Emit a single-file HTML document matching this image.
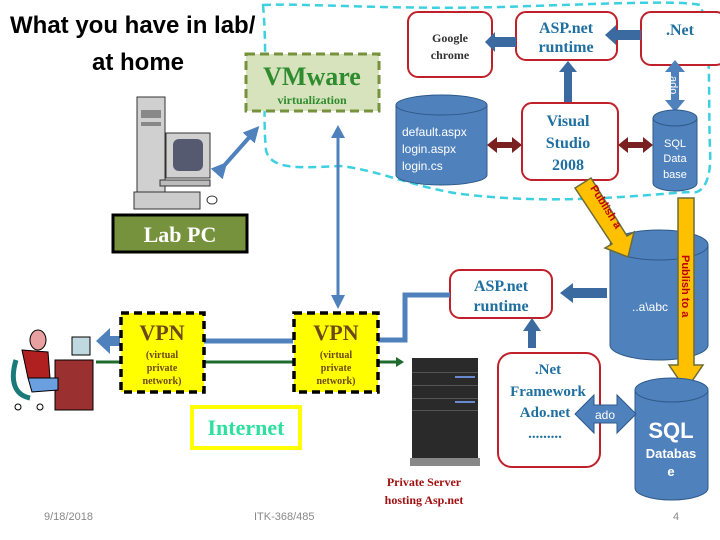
<!DOCTYPE html>
<html><head><meta charset="utf-8"><style>
html,body{margin:0;padding:0;background:#fff;}
svg{display:block;}
.s{font-family:"Liberation Serif",serif;font-weight:bold;}
.a{font-family:"Liberation Sans",sans-serif;}
</style></head><body>
<svg width="720" height="540" viewBox="0 0 720 540" xmlns="http://www.w3.org/2000/svg">
<defs>
<marker id="bh" markerWidth="4" markerHeight="4" refX="2" refY="2" orient="auto"><path d="M0,0L4,2L0,4z" fill="#4f81bd"/></marker>
</defs>
<!-- cloud -->
<path d="M263,5 C300,3 400,10 500,7 C600,4 680,0 700,5 C712,30 708,100 710,150 C712,185 700,195 690,192 C640,195 560,205 470,195 C420,190 380,170 340,166 C300,168 270,170 266,150 C262,110 268,60 263,5Z" fill="none" stroke="#3dd0e0" stroke-width="2.5" stroke-dasharray="8,5"/>
<!-- title -->
<text x="10" y="33" class="a" font-size="24" font-weight="bold" fill="#000">What you have in lab/</text>
<text x="92" y="70" class="a" font-size="24" font-weight="bold" fill="#000">at home</text>
<!-- VMware -->
<rect x="246" y="54" width="133" height="57" fill="#d6e3bc" stroke="#76923c" stroke-width="3" stroke-dasharray="9,5"/>
<text x="312" y="85" class="s" font-size="26" fill="#2e8b2e" text-anchor="middle">VMware</text>
<text x="312" y="104" class="s" font-size="12" fill="#2e8b2e" text-anchor="middle">virtualization</text>
<!-- computer icon -->
<rect x="137" y="97" width="28" height="95" fill="#d0d0d0" stroke="#333"/>
<rect x="141" y="110" width="20" height="8" fill="#888"/>
<rect x="141" y="122" width="20" height="4" fill="#888"/>
<rect x="166" y="133" width="44" height="45" fill="#d0d0d0" stroke="#333"/>
<rect x="173" y="139" width="30" height="32" rx="6" fill="#555a70"/>
<rect x="160" y="180" width="50" height="6" fill="#bbb" stroke="#333"/>
<rect x="134" y="192" width="66" height="17" fill="#ccc" stroke="#333"/>
<ellipse cx="212" cy="200" rx="5" ry="4" fill="#fff" stroke="#333"/>
<!-- Lab PC -->
<rect x="113" y="215" width="134" height="37" fill="#76923c" stroke="#000" stroke-width="3"/>
<text x="180" y="242" class="s" font-size="22" fill="#fff" font-weight="normal" text-anchor="middle">Lab PC</text>
<!-- PC <-> VMware -->
<line x1="222" y1="168" x2="254" y2="132" stroke="#4f81bd" stroke-width="4" marker-start="url(#bh)" marker-end="url(#bh)"/>
<!-- vertical line VMware->VPN -->
<line x1="338" y1="132" x2="338" y2="300" stroke="#4f81bd" stroke-width="3"/>
<path d="M331,295L345,295L338,309Z" fill="#4f81bd"/>
<path d="M331,138L345,138L338,125Z" fill="#4f81bd"/>
<!-- top boxes -->
<rect x="408" y="12" width="84" height="65" rx="10" fill="#fff" stroke="#c0202a" stroke-width="2"/>
<text x="450" y="42" class="s" font-size="12" fill="#333" text-anchor="middle">Google</text>
<text x="450" y="59" class="s" font-size="12" fill="#333" text-anchor="middle">chrome</text>
<rect x="516" y="12" width="101" height="48" rx="10" fill="#fff" stroke="#c0202a" stroke-width="2"/>
<text x="566" y="33" class="s" font-size="16" fill="#1f6fa0" text-anchor="middle">ASP.net</text>
<text x="566" y="52" class="s" font-size="16" fill="#1f6fa0" text-anchor="middle">runtime</text>
<rect x="641" y="12" width="85" height="53" rx="10" fill="#fff" stroke="#c0202a" stroke-width="2"/>
<text x="680" y="35" class="s" font-size="16" fill="#1f6fa0" text-anchor="middle">.Net</text>
<!-- arrows top -->
<path d="M641,30L616,30L616,25L605,35L616,45L616,40L641,40Z" fill="#3a6aa0"/>
<path d="M516,37L495,37L495,32L485,42L495,52L495,47L516,47Z" fill="#3a6aa0"/>
<path d="M564,103L564,72L559,72L568,61L577,72L572,72L572,103Z" fill="#3a6aa0"/>
<path d="M675,60L665,72L671,72L671,100L665,100L675,112L685,100L679,100L679,72L685,72Z" fill="#4f81bd"/>
<text transform="translate(670,76) rotate(90)" class="a" font-size="11" fill="#fff">ado</text>
<!-- default cylinder -->
<path d="M396,105 L396,175 A45.5,10 0 0 0 487,175 L487,105Z" fill="#4f81bd" stroke="#2d5a8a"/>
<ellipse cx="441.5" cy="105" rx="45.5" ry="10" fill="#4f81bd" stroke="#2d5a8a"/>
<text x="402" y="136" class="a" font-size="12" fill="#fff">default.aspx</text>
<text x="402" y="153" class="a" font-size="12" fill="#fff">login.aspx</text>
<text x="402" y="170" class="a" font-size="12" fill="#fff">login.cs</text>
<!-- VS -->
<rect x="522" y="103" width="96" height="77" rx="10" fill="#fff" stroke="#c0202a" stroke-width="2"/>
<text x="568" y="126" class="s" font-size="16" fill="#1f6fa0" text-anchor="middle">Visual</text>
<text x="568" y="148" class="s" font-size="16" fill="#1f6fa0" text-anchor="middle">Studio</text>
<text x="568" y="170" class="s" font-size="16" fill="#1f6fa0" text-anchor="middle">2008</text>
<!-- SQL data base small -->
<path d="M653,118 L653,183 A22,8 0 0 0 697,183 L697,118Z" fill="#4f81bd" stroke="#2d5a8a"/>
<ellipse cx="675" cy="118" rx="22" ry="8" fill="#4f81bd" stroke="#2d5a8a"/>
<text x="675" y="147" class="a" font-size="11" fill="#fff" text-anchor="middle">SQL</text>
<text x="675" y="162" class="a" font-size="11" fill="#fff" text-anchor="middle">Data</text>
<text x="675" y="178" class="a" font-size="11" fill="#fff" text-anchor="middle">base</text>
<!-- dark red double arrows -->
<path d="M487,145L497,137L497,142L512,142L512,137L522,145L512,153L512,148L497,148L497,153Z" fill="#7a2020"/>
<path d="M618,145L628,137L628,142L643,142L643,137L653,145L643,153L643,148L628,148L628,153Z" fill="#7a2020"/>
<!-- ..a\abc cylinder -->
<path d="M610,245 L610,345 A49,15 0 0 0 708,345 L708,245Z" fill="#4f81bd" stroke="#2d5a8a"/>
<ellipse cx="659" cy="245" rx="49" ry="15" fill="#4f81bd" stroke="#2d5a8a"/>
<text x="650" y="311" class="a" font-size="12" fill="#fff" text-anchor="middle">..a\abc</text>
<!-- publish diagonal -->
<path d="M575,188 L591,178 L627,236 L634,232 L628,257 L605,248 L612,244 Z" fill="#ffc000" stroke="#6b6b3a" stroke-width="1.5"/>
<text transform="translate(590,188) rotate(58)" class="a" font-size="11" font-weight="bold" fill="#c00000">Publish a</text>
<!-- publish vertical -->
<path d="M678,198 L694,198 L694,365 L703,365 L686,390 L669,365 L678,365 Z" fill="#ffc000" stroke="#6b6b3a" stroke-width="1.5"/>
<text transform="translate(682,255) rotate(90)" class="a" font-size="11" font-weight="bold" fill="#c00000">Publish to a</text>
<!-- ASP middle -->
<rect x="450" y="270" width="102" height="48" rx="10" fill="#fff" stroke="#c0202a" stroke-width="2"/>
<text x="501" y="291" class="s" font-size="16" fill="#1f6fa0" text-anchor="middle">ASP.net</text>
<text x="501" y="311" class="s" font-size="16" fill="#1f6fa0" text-anchor="middle">runtime</text>
<path d="M607,288L573,288L573,283L560,293L573,303L573,298L607,298Z" fill="#3a6aa0"/>
<path d="M528,348L528,331L523,331L532,318L541,331L536,331L536,348Z" fill="#3a6aa0"/>
<!-- .Net Framework -->
<rect x="498" y="353" width="102" height="114" rx="14" fill="#fff" stroke="#c0202a" stroke-width="2"/>
<text x="548" y="374" class="s" font-size="15" fill="#1f6fa0" text-anchor="middle">.Net</text>
<text x="548" y="396" class="s" font-size="15" fill="#1f6fa0" text-anchor="middle">Framework</text>
<text x="545" y="417" class="s" font-size="15" fill="#1f6fa0" text-anchor="middle">Ado.net</text>
<text x="545" y="438" class="s" font-size="15" fill="#1f6fa0" text-anchor="middle">.........</text>
<!-- SQL Database -->
<path d="M635,390 L635,488 A36.5,12 0 0 0 708,488 L708,390Z" fill="#4f81bd" stroke="#2d5a8a"/>
<ellipse cx="671.5" cy="390" rx="36.5" ry="12" fill="#4f81bd" stroke="#2d5a8a"/>
<text x="671" y="438" class="a" font-size="22" font-weight="bold" fill="#fff" text-anchor="middle">SQL</text>
<text x="671" y="458" class="a" font-size="13" font-weight="bold" fill="#fff" text-anchor="middle">Databas</text>
<text x="671" y="476" class="a" font-size="13" font-weight="bold" fill="#fff" text-anchor="middle">e</text>
<!-- ado horizontal -->
<path d="M575,414L594,395L594,405L617,405L617,395L636,414L617,433L617,423L594,423L594,433Z" fill="#4f81bd" stroke="#2d5a8a"/>
<text x="605" y="419" class="a" font-size="12" fill="#fff" text-anchor="middle">ado</text>
<!-- server -->
<rect x="412" y="358" width="66" height="100" fill="#2a2a2a"/>
<rect x="412" y="372" width="66" height="1" fill="#555"/>
<rect x="412" y="385" width="66" height="1" fill="#555"/>
<rect x="412" y="398" width="66" height="1" fill="#555"/>
<rect x="412" y="410" width="66" height="1" fill="#555"/>
<rect x="455" y="376" width="20" height="2" fill="#6a8ad0"/>
<rect x="455" y="401" width="20" height="2" fill="#6a8ad0"/>
<rect x="410" y="458" width="70" height="8" fill="#888"/>
<text x="424" y="486" class="s" font-size="12" fill="#a01010" text-anchor="middle">Private Server</text>
<text x="424" y="504" class="s" font-size="12" fill="#a01010" text-anchor="middle">hosting Asp.net</text>
<!-- connection from VPN to ASP -->
<polyline points="378,340 405,340 405,295 450,295" fill="none" stroke="#4f81bd" stroke-width="5"/>
<line x1="378" y1="362" x2="397" y2="362" stroke="#1e6b2e" stroke-width="3"/>
<path d="M396,357L404,362L396,367Z" fill="#1e6b2e"/>
<!-- VPN lines -->
<line x1="204" y1="341" x2="293" y2="341" stroke="#4f81bd" stroke-width="5"/>
<line x1="204" y1="362" x2="293" y2="362" stroke="#1e6b2e" stroke-width="3"/>
<line x1="96" y1="362" x2="120" y2="362" stroke="#1e6b2e" stroke-width="3"/>
<path d="M120,336L110,336L110,328L96,341L110,354L110,346L120,346Z" fill="#4f81bd"/>
<!-- VPN boxes -->
<rect x="121" y="313" width="83" height="79" fill="#ffff00" stroke="#000" stroke-width="3.5" stroke-dasharray="8,5"/>
<text x="162" y="340" class="s" font-size="22" fill="#6b4a1a" text-anchor="middle">VPN</text>
<text x="162" y="358" class="s" font-size="10" fill="#6b4a1a" text-anchor="middle">(virtual</text>
<text x="162" y="371" class="s" font-size="10" fill="#6b4a1a" text-anchor="middle">private</text>
<text x="162" y="384" class="s" font-size="10" fill="#6b4a1a" text-anchor="middle">network)</text>
<rect x="294" y="313" width="84" height="79" fill="#ffff00" stroke="#000" stroke-width="3.5" stroke-dasharray="8,5"/>
<text x="336" y="340" class="s" font-size="22" fill="#6b4a1a" text-anchor="middle">VPN</text>
<text x="336" y="358" class="s" font-size="10" fill="#6b4a1a" text-anchor="middle">(virtual</text>
<text x="336" y="371" class="s" font-size="10" fill="#6b4a1a" text-anchor="middle">private</text>
<text x="336" y="384" class="s" font-size="10" fill="#6b4a1a" text-anchor="middle">network)</text>
<!-- Internet -->
<rect x="192" y="407" width="108" height="41" fill="#fff" stroke="#ffff00" stroke-width="4"/>
<text x="246" y="435" class="s" font-size="22" fill="#2ee0a0" text-anchor="middle">Internet</text>
<!-- person -->
<rect x="55" y="360" width="38" height="50" fill="#9b3030" stroke="#000"/>
<rect x="72" y="337" width="18" height="18" fill="#c0d8e0" stroke="#000"/>
<ellipse cx="38" cy="340" rx="8" ry="10" fill="#e8a0a0" stroke="#000"/>
<path d="M22,350 L48,352 L50,378 L28,378 Z" fill="#b02020" stroke="#000"/>
<path d="M28,378 L58,378 L58,390 L32,392Z" fill="#6aa0e0" stroke="#000"/>
<path d="M16,360 C10,380 14,395 30,398" fill="none" stroke="#1a7a7a" stroke-width="5"/>
<circle cx="18" cy="407" r="3" fill="none" stroke="#000"/>
<circle cx="40" cy="407" r="3" fill="none" stroke="#000"/>
<!-- footer -->
<text x="44" y="520" class="a" font-size="11" fill="#888">9/18/2018</text>
<text x="254" y="520" class="a" font-size="11" fill="#888">ITK-368/485</text>
<text x="673" y="520" class="a" font-size="11" fill="#888">4</text>
</svg>
</body></html>
